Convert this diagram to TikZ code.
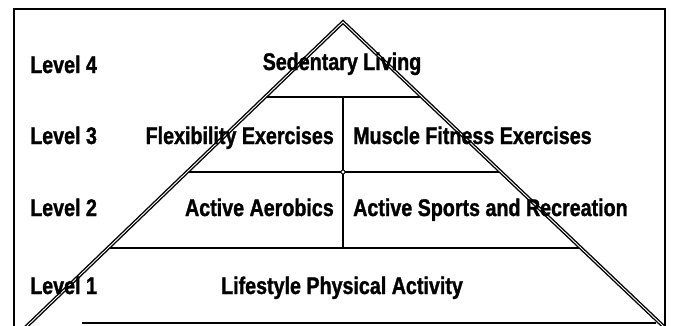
\documentclass[tikz,border=0pt]{standalone}
\usepackage{fontspec}
\setmainfont{Liberation Sans}[FakeStretch=0.82, BoldFeatures={FakeBold=1.3}]
\usetikzlibrary{calc}
\begin{document}
\begin{tikzpicture}[x=1pt,y=-1pt,
  lbl/.style={font=\bfseries\fontsize{24}{26}\selectfont, inner sep=0pt},
  frameline/.style={line width=1.8pt},
  levelline/.style={line width=1.6pt},
  side/.style={line width=1.4pt, double=white, double distance=0.9pt}]
\useasboundingbox (0,0) rectangle (678,325);
\begin{scope}
\clip (0,0) rectangle (678,325);
% frame
\coordinate (ftl) at (14,9);
\coordinate (ftr) at (665,9);
\coordinate (fbl) at (14,340);
\coordinate (fbr) at (665,340);
\draw[frameline] (fbl) -- (ftl) -- (ftr) -- (fbr);
% pyramid
\coordinate (apex) at (343,22);
\coordinate (bl) at (28,325);
\coordinate (br) at (662,325);
\coordinate (blx) at ($(apex)!1.05!(bl)$);
\coordinate (brx) at ($(apex)!1.05!(br)$);
\coordinate (l4) at ($(apex)!0.2475!(bl)$);
\coordinate (r4) at ($(apex)!0.2475!(br)$);
\coordinate (l3) at ($(apex)!0.495!(bl)$);
\coordinate (r3) at ($(apex)!0.495!(br)$);
\coordinate (l2) at ($(apex)!0.746!(bl)$);
\coordinate (r2) at ($(apex)!0.746!(br)$);
\coordinate (m4) at (343,97);
\coordinate (m2) at (343,248);
\coordinate (b1) at (82,323);
\coordinate (b2) at (656,323);
\draw[levelline] (l4) -- (r4);
\draw[levelline] (l3) -- (r3);
\draw[levelline] (l2) -- (r2);
\draw[levelline] (b1) -- (b2);
\draw[levelline] (m4) -- (m2);
\node[circle, draw, fill=white, line width=0.8pt, inner sep=0pt, minimum size=4pt] (hub) at (343,172) {};
\draw[side] (blx) -- (apex) -- (brx);
\end{scope}
% labels
\node[lbl, anchor=base west] (lv4) at (30,73) {Level 4};
\node[lbl, anchor=base west] (lv3) at (30,144) {Level 3};
\node[lbl, anchor=base west] (lv2) at (30,216) {Level 2};
\node[lbl, anchor=base west] (lv1) at (30,294) {Level 1};
\node[lbl, anchor=base] (sed) at (342,70) {Sedentary Living};
\node[lbl, anchor=base east] (flex) at (334,144) {Flexibility Exercises};
\node[lbl, anchor=base west] (musc) at (353,144) {Muscle Fitness Exercises};
\node[lbl, anchor=base east] (aer) at (334,216) {Active Aerobics};
\node[lbl, anchor=base west] (spo) at (353,216) {Active Sports and Recreation};
\node[lbl, anchor=base] (life) at (342,294) {Lifestyle Physical Activity};
\end{tikzpicture}
\end{document}
